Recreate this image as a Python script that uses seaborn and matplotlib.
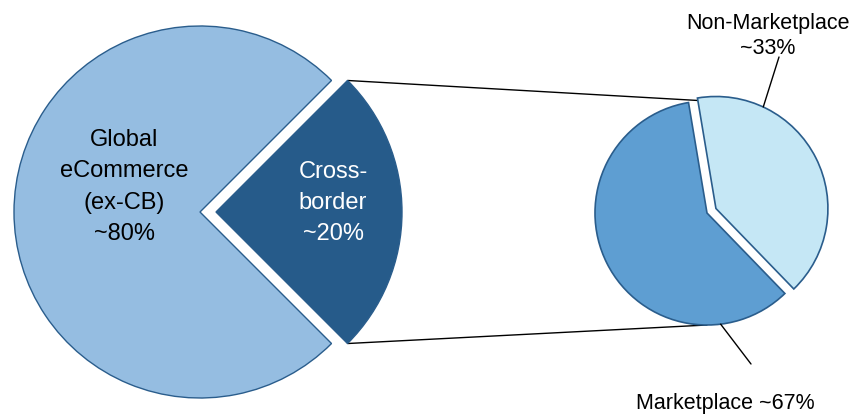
import matplotlib
matplotlib.use("Agg")
import matplotlib.pyplot as plt
import seaborn as sns
import numpy as np

# shares as drawn in the picture (labels carry the rounded figures)
main_labels = ["Cross-\nborder\n~20%", "Global\neCommerce\n(ex-CB)\n~80%"]
main_sizes = [25, 75]
sub_labels = ["Marketplace ~67%", "Non-Marketplace\n~33%"]
sub_sizes = [59.6, 40.4]

main_colors = ["#265b8a", "#95bde1"]
sub_colors = ["#5e9ed2", "#c5e7f5"]
edge = "#2a5d8c"

sns.set_theme(style="white")
plt.rcParams["font.family"] = ["Liberation Sans", "DejaVu Sans"]

fig = plt.figure(figsize=(8.55, 4.16), dpi=100)
ax = fig.add_axes([0, 0, 1, 1])

# big pie (coords in pixels, y up)
big_wedges, _ = ax.pie(main_sizes, colors=main_colors, startangle=-45,
                       center=(200, 204), radius=186, explode=[16, 0],
                       wedgeprops=dict(edgecolor=edge, linewidth=1.0),
                       frame=True)

# small pie
small_wedges, _ = ax.pie(sub_sizes, colors=sub_colors, startangle=99.5,
                         center=(707, 203), radius=112, explode=[0, 10],
                         wedgeprops=dict(edgecolor=edge, linewidth=1.2),
                         frame=True)

ax.set_xlim(0, 855)
ax.set_ylim(0, 416)
ax.set_aspect("equal")
ax.axis("off")

# connector lines from the exploded wedge corners to top/bottom of small pie
cb = big_wedges[0]
cx, cy = cb.center
sc = small_wedges[0].center
sr = small_wedges[0].r
for ang, ty in [(cb.theta2, sc[1] + sr), (cb.theta1, sc[1] - sr)]:
    x0 = cx + cb.r * np.cos(np.radians(ang))
    y0 = cy + cb.r * np.sin(np.radians(ang))
    ax.plot([x0, sc[0]], [y0, ty], color="black", lw=1.0, zorder=0)

# labels
ax.text(124, 229, main_labels[1], ha="center", va="center", fontsize=17,
        color="black", linespacing=1.55)
ax.text(333, 213, main_labels[0], ha="center", va="center", fontsize=17,
        color="white", linespacing=1.55)

# leader lines for small pie
nm = small_wedges[1]
a = np.radians(65)
p0 = (nm.center[0] + nm.r * np.cos(a), nm.center[1] + nm.r * np.sin(a))
ax.plot([p0[0], 779], [p0[1], 359], color="black", lw=1.0)
ax.text(768, 380, sub_labels[1], ha="center", va="center", fontsize=15.5,
        color="black", linespacing=1.25)

mk = small_wedges[0]
a = np.radians(-83)
p1 = (mk.center[0] + mk.r * np.cos(a), mk.center[1] + mk.r * np.sin(a))
ax.plot([p1[0], 751], [p1[1], 52], color="black", lw=1.0)
ax.text(725, 13, sub_labels[0], ha="center", va="center", fontsize=15.5,
        color="black")

fig.savefig("out.png", dpi=100)
